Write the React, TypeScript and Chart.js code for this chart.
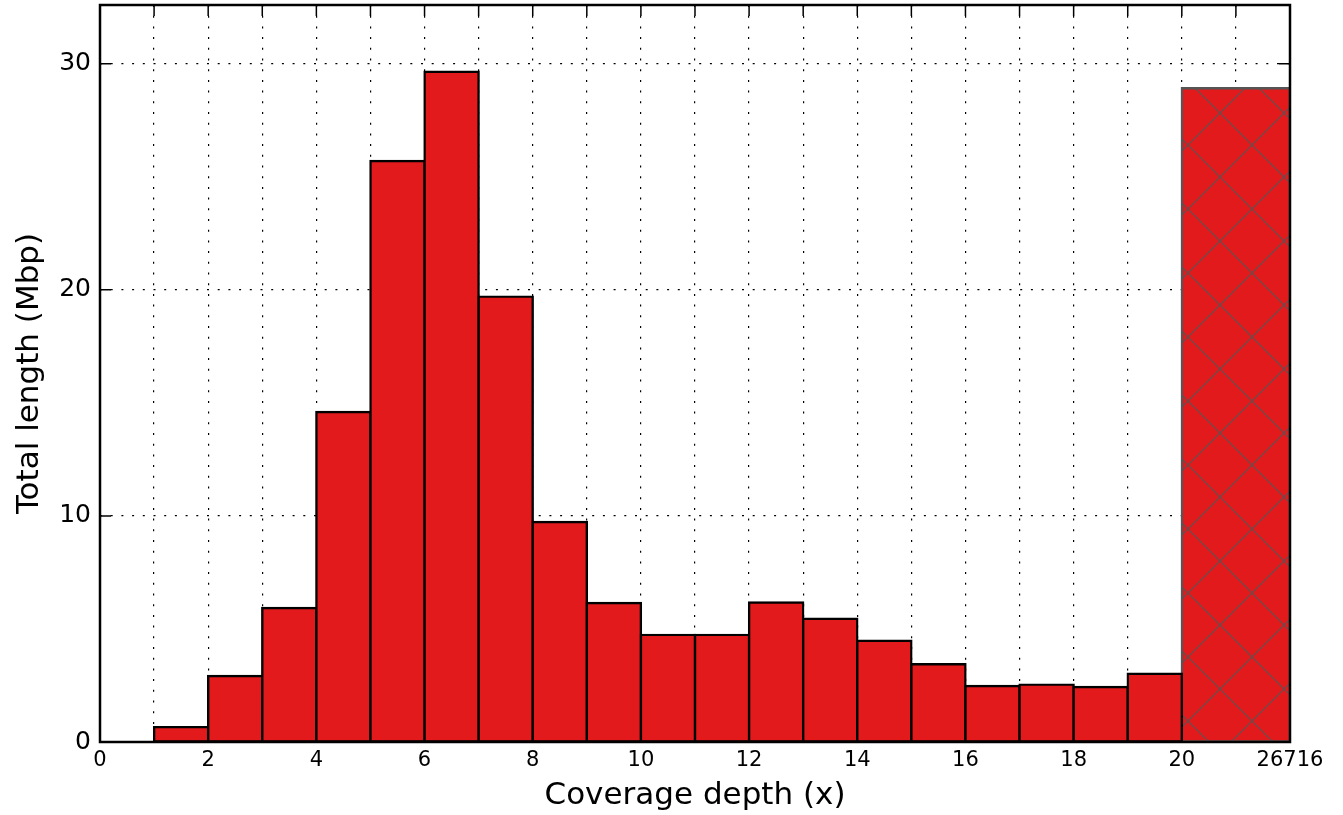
import React, { useEffect, useRef } from 'react';
import { Chart, registerables } from 'chart.js';

Chart.register(...registerables);

// Histogram bins (coverage depth, width 1)
const binWidth = 1;
const binStarts = [1, 2, 3, 4, 5, 6, 7, 8, 9, 10, 11, 12, 13, 14, 15, 16, 17, 18, 19];
const binLengths = [0.66, 2.92, 5.93, 14.6, 25.7, 29.65, 19.7, 9.73, 6.15, 4.74, 4.74, 6.17, 5.45, 4.48, 3.44, 2.48, 2.54, 2.43, 3.02];

// Overflow bin (20 .. max depth 26716), drawn hatched
const overflowStart = 20;
const overflowEnd = 22;
const overflowLength = 28.92;

// Axes
const xMin = 0;
const xMax = 22;
const yMin = 0;
const yMax = 32.6;
const xTickValues = [0, 2, 4, 6, 8, 10, 12, 14, 16, 18, 20, 22];
const xTickLabels = ['0', '2', '4', '6', '8', '10', '12', '14', '16', '18', '20', '26716'];
const yTickValues = [0, 10, 20, 30];

const xTitle = 'Coverage depth (x)';
const yTitle = 'Total length (Mbp)';

const FONT = "'DejaVu Sans', sans-serif";

function makeHatch(): CanvasPattern | string {
  const size = 64;
  const c = document.createElement('canvas');
  c.width = size;
  c.height = size;
  const g = c.getContext('2d');
  if (!g) return '#E31A1C';
  g.fillStyle = '#E31A1C';
  g.fillRect(0, 0, size, size);
  g.strokeStyle = '#555555';
  g.lineWidth = 1.1;
  const seg = (x1: number, y1: number, x2: number, y2: number) => {
    g.beginPath();
    g.moveTo(x1, y1);
    g.lineTo(x2, y2);
    g.stroke();
  };
  for (const o of [-size, 0, size]) {
    seg(o - 2, -2, o + size + 2, size + 2); // "\"
    seg(o + size + 2, -2, o - 2, size + 2); // "/"
  }
  const p = g.createPattern(c, 'repeat');
  if (!p) return '#E31A1C';
  try {
    p.setTransform(new DOMMatrix().translate(4, 49));
  } catch (e) {
    /* ignore */
  }
  return p;
}

const frameTicks = {
  id: 'frameTicks',
  beforeDatasetsDraw(chart: any) {
    const { ctx, chartArea: a, scales } = chart;
    const len = 11;
    ctx.save();
    ctx.strokeStyle = '#000';
    ctx.lineWidth = 1.5;
    ctx.beginPath();
    scales.x.ticks.forEach((t: any) => {
      const px = scales.x.getPixelForValue(t.value);
      ctx.moveTo(px, a.top);
      ctx.lineTo(px, a.top + len);
      ctx.moveTo(px, a.bottom);
      ctx.lineTo(px, a.bottom - len);
    });
    yTickValues.forEach((v) => {
      const py = scales.y.getPixelForValue(v);
      ctx.moveTo(a.left, py);
      ctx.lineTo(a.left + len, py);
      ctx.moveTo(a.right, py);
      ctx.lineTo(a.right - len, py);
    });
    ctx.stroke();
    ctx.restore();
  },
  afterDatasetsDraw(chart: any) {
    const { ctx, chartArea: a } = chart;
    ctx.save();
    ctx.strokeStyle = '#000';
    ctx.lineWidth = 2.5;
    ctx.strokeRect(a.left, a.top, a.right - a.left, a.bottom - a.top);
    ctx.restore();
  },
};

export default function App() {
  const ref = useRef<HTMLCanvasElement | null>(null);

  useEffect(() => {
    if (!ref.current) return;
    document.body.style.margin = '0';
    const hatch = makeHatch();
    const chart = new Chart(ref.current, {
      type: 'bar',
      data: {
        datasets: [
          {
            label: 'depth',
            data: binStarts.map((s, i) => ({ x: s + binWidth / 2, y: binLengths[i] })),
            backgroundColor: '#E31A1C',
            borderColor: '#000000',
            borderWidth: 2.4,
            borderSkipped: false,
            inflateAmount: 1.2,
            barPercentage: 1,
            categoryPercentage: 1,
            grouped: false,
          } as any,
          {
            label: 'overflow',
            data: [{ x: (overflowStart + overflowEnd) / 2, y: overflowLength }],
            backgroundColor: hatch as any,
            borderColor: '#555555',
            borderWidth: 2.4,
            borderSkipped: false,
            inflateAmount: 1.2,
            barPercentage: (overflowEnd - overflowStart) / binWidth,
            categoryPercentage: 1,
            grouped: false,
          } as any,
        ],
      },
      options: {
        animation: false,
        responsive: true,
        maintainAspectRatio: false,
        layout: { padding: { top: 5, right: 53, left: 0, bottom: 0 } },
        plugins: {
          legend: { display: false },
          tooltip: { enabled: false },
        },
        scales: {
          x: {
            type: 'linear',
            min: xMin,
            max: xMax,
            offset: false,
            grid: {
              offset: false,
              color: '#000000',
              lineWidth: 1.2,
              drawTicks: false,
            },
            border: { display: false, dash: [2, 8.7] },
            ticks: {
              stepSize: 1,
              autoSkip: false,
              maxRotation: 0,
              padding: 6,
              color: '#000',
              font: { family: FONT, size: 21 },
              callback: (v: any) => {
                const i = xTickValues.indexOf(Number(v));
                return i >= 0 ? xTickLabels[i] : '';
              },
            },
            title: {
              display: true,
              text: xTitle,
              color: '#000',
              font: { family: FONT, size: 31 },
              padding: { top: 0, bottom: 0 },
            },
            afterFit: (s: any) => {
              s.height = 73;
              s.paddingLeft = 0;
              s.paddingRight = 0;
            },
          },
          y: {
            type: 'linear',
            min: yMin,
            max: yMax,
            grid: {
              color: '#000000',
              lineWidth: 1.2,
              drawTicks: false,
            },
            border: { display: false, dash: [2, 8.7] },
            ticks: {
              stepSize: 10,
              padding: 9,
              color: '#000',
              font: { family: FONT, size: 25 },
              callback: (v: any) => (yTickValues.includes(Number(v)) ? String(v) : ''),
            },
            title: {
              display: true,
              text: yTitle,
              color: '#000',
              font: { family: FONT, size: 31 },
              padding: { top: 11, bottom: 11 },
            },
            afterFit: (s: any) => {
              s.width = 100;
              s.paddingTop = 0;
              s.paddingBottom = 0;
            },
          },
        },
      } as any,
      plugins: [frameTicks],
    });
    return () => chart.destroy();
  }, []);

  return (
    <div style={{ position: 'absolute', left: 0, top: 0, width: 1343, height: 815, background: '#fff' }}>
      <canvas ref={ref} />
    </div>
  );
}
